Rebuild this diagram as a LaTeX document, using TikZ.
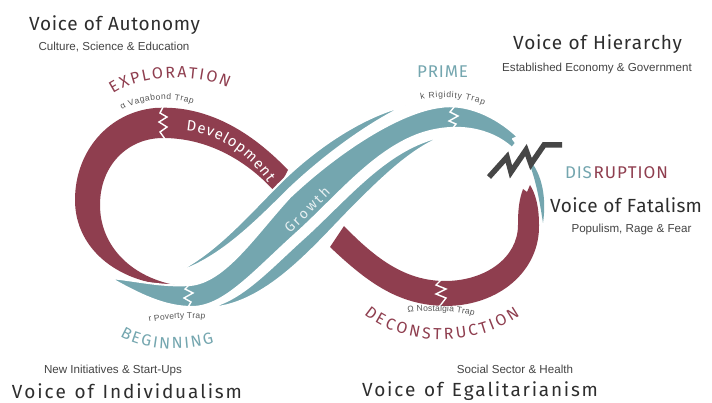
\documentclass[tikz,border=0pt]{standalone}
\usepackage{fontspec}
\setmainfont{Liberation Sans}
\newfontfamily\titlef{Fira Sans}
\newfontfamily\subf{Liberation Sans}
\usetikzlibrary{decorations.text}
\definecolor{mar}{HTML}{8F3E4F}
\definecolor{tea}{HTML}{74A6AF}
\definecolor{ink}{HTML}{2E2E2E}
\definecolor{subc}{HTML}{444444}
\definecolor{tiny}{HTML}{555555}
\definecolor{bolt}{HTML}{464646}
\definecolor{growc}{HTML}{E6EFF1}
\newcommand\ptext[4]{\path[decorate,decoration={text along path,text align={fit to path},text color=#1,text={|#2|#3}}] #4;}
\newcommand\bigf{\titlef\fontsize{19}{19}\selectfont}
\newcommand\midf{\titlef\fontsize{16}{16}\selectfont}
\newcommand\tinyf{\subf\fontsize{8.5}{8.5}\selectfont}
\tikzset{
  band/.style={fill=#1, draw=white, line width=2pt, line join=round},
  crack/.style={draw=white, line width=1.4pt, line join=miter},
  subtitle/.style={anchor=base, text=subc, font=\subf\fontsize{11.6}{11.6}\selectfont, inner sep=0pt}
}
\begin{document}
\begin{tikzpicture}[x=1pt,y=-1pt]
\useasboundingbox (0,0) rectangle (712,403);
\fill[white] (0,0) rectangle (712,403);

% red left loop
\fill[mar] (288,170) .. controls (245,125) and (200,105) .. (155,108) .. controls (110,112) and (75,150) .. (75,200) .. controls (75,250) and (120,285) .. (180,286) .. controls (130,278) and (100,245) .. (100,205) .. controls (100,165) and (128,138) .. (163,138) .. controls (205,138) and (245,158) .. (276,193) -- cycle;

% red right loop
\fill[mar] (330,247) .. controls (370,285) and (400,305) .. (445,306) .. controls (500,306) and (540,270) .. (539,225) .. controls (539,205) and (535,193) .. (530,185) -- (527,192) -- (523,189) .. controls (519,200) and (518,210) .. (518,225) .. controls (518,258) and (485,281) .. (445,281) .. controls (405,281) and (375,258) .. (344,226) -- cycle;

% teal main band
\path[band=tea] (110,278) .. controls (140,295) and (165,307) .. (192,307) .. controls (225,307) and (255,270) .. (300,230) .. controls (340,193) and (375,150) .. (420,134) .. controls (455,122) and (490,128) .. (512,148) -- (516,143) -- (513,139) -- (518,137) .. controls (495,115) and (465,103) .. (440,107) .. controls (400,112) and (340,150) .. (290,197) .. controls (255,235) and (225,282) .. (190,285) .. controls (160,287) and (135,280) .. (110,278) -- cycle;
% teal upper strip
\path[band=tea] (172,274) .. controls (215,262) and (250,228) .. (288,190) .. controls (330,150) and (375,120) .. (405,106) .. controls (370,114) and (325,140) .. (285,178) .. controls (250,212) and (215,255) .. (172,274) -- cycle;
% teal lower strip
\path[band=tea] (205,308) .. controls (240,303) and (270,268) .. (306,236) .. controls (346,199) and (381,157) .. (426,141) .. controls (437,137) and (445,134) .. (454,133) .. controls (420,142) and (390,170) .. (355,205) .. controls (315,245) and (265,308) .. (205,308) -- cycle;
% teal crescent
\fill[tea] (526,156) .. controls (541,170) and (547,195) .. (543,223) .. controls (539,197) and (535,175) .. (526,156) -- cycle;

% traps (cracks)
\draw[crack] (163,107) -- (160,113) -- (167,117) -- (159,122) -- (167,127) -- (160,132) -- (165,139);
\draw[crack] (455,106) -- (450,112) -- (458,116) -- (449,121) -- (456,124) -- (452,129);
\draw[crack] (190,284) -- (185,289) -- (193,293) -- (184,298) -- (191,302) -- (187,309);
\draw[crack] (441,280) -- (436,285) -- (446,289) -- (436,294) -- (446,298) -- (439,307);

% lightning
\draw[bolt, line width=5.5pt, line join=miter, line cap=butt] (489,177) -- (507,157) -- (511,172) -- (526,150) -- (531,164) -- (544,145) -- (562,145);

% curved labels
\ptext{mar}{\midf}{EXPLORATION}{(113,94) .. controls (140,76) and (195,72) .. (228,88)}
\ptext{tea}{\midf}{BEGINNING}{(120,336) .. controls (145,351) and (185,352) .. (214,343)}
\ptext{mar}{\midf}{DECONSTRUCTION}{(364,314) .. controls (400,345) and (470,350) .. (520,316)}
\ptext{white}{\titlef\fontsize{15}{15}\selectfont}{Development}{(186,131) .. controls (215,133) and (245,150) .. (268,183)}
\ptext{growc}{\titlef\fontsize{14}{14}\selectfont}{Growth}{(290,234) -- (331,193)}

% trap labels
\ptext{tiny}{\tinyf}{α Vagabond Trap}{(122,110) .. controls (140,100) and (170,96) .. (193,104)}
\ptext{tiny}{\tinyf}{k Rigidity Trap}{(421,100) .. controls (440,96) and (465,97) .. (484,105)}
\ptext{tiny}{\tinyf}{r Poverty Trap}{(149,322) .. controls (165,319) and (190,317) .. (205,319)}
\ptext{tiny}{\tinyf}{Ω Nostalgia Trap}{(408,313) .. controls (425,310) and (455,310) .. (474,316)}

% stage words
\ptext{tea}{\titlef\fontsize{17}{17}\selectfont}{PRIME}{(417,77.5) -- (468,77.5)}
\ptext{tea}{\titlef\fontsize{17}{17}\selectfont}{DIS}{(565,179) -- (592,179)}
\ptext{mar}{\titlef\fontsize{17}{17}\selectfont}{RUPTION}{(593.5,179) -- (668,179)}

% voices
\ptext{ink}{\bigf}{Voice of Autonomy}{(29,30.5) -- (200,30.5)}
\ptext{ink}{\bigf}{Voice of Hierarchy}{(513,50) -- (682,50)}
\ptext{ink}{\bigf}{Voice of Fatalism}{(550,213) -- (702,213)}
\ptext{ink}{\bigf}{Voice of Individualism}{(12,398) -- (242,398)}
\ptext{ink}{\bigf}{Voice of Egalitarianism}{(362,396) -- (598,396)}

% subtitles
\node[subtitle] (s1) at (114,50.5) {Culture, Science \& Education};
\node[subtitle] (s2) at (597,71.5) {Established Economy \& Government};
\node[subtitle] (s3) at (631.5,233) {Populism, Rage \& Fear};
\node[subtitle] (s4) at (113,373) {New Initiatives \& Start-Ups};
\node[subtitle] (s5) at (515,373) {Social Sector \& Health};
\end{tikzpicture}
\end{document}
